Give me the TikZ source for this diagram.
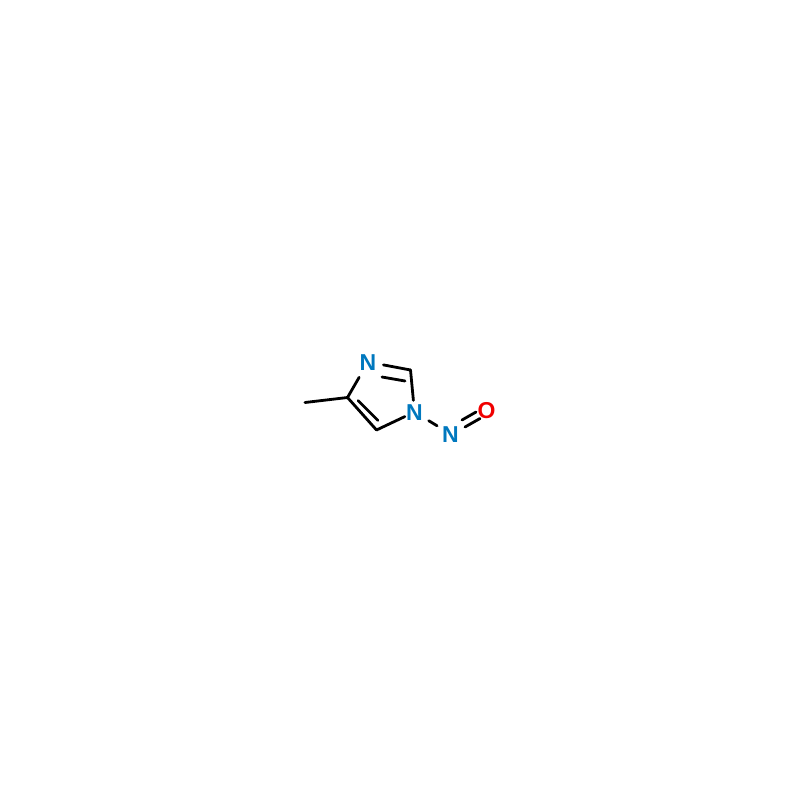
\documentclass[tikz,border=0pt]{standalone}
\usepackage{fontspec}
\setmainfont{Liberation Sans}
\definecolor{nblue}{RGB}{0,120,190}
\definecolor{ored}{RGB}{240,0,0}
\begin{document}
\begin{tikzpicture}[x=1pt,y=-1pt,
  atom/.style={circle,inner sep=0pt,text height=16pt,text depth=0pt,font=\fontsize{23}{24}\selectfont\bfseries},
  bond/.style={line width=2.8pt,line cap=round}]
\useasboundingbox (0,0) rectangle (800,800);
\node[atom,text=nblue] (N3) at (368,362) {N};
\node[atom,text=nblue] (N1) at (414.5,412) {N};
\node[atom,text=nblue] (Nn) at (450.5,434) {N};
\node[atom,text=ored] (O) at (486.5,410) {O};
\coordinate (Me) at (305,402.5);
\coordinate (C4) at (347.5,397.5);
\coordinate (C2) at (410.5,370);
\coordinate (C5) at (376.5,430);
\coordinate (d1a) at (382,377);
\coordinate (d1b) at (405,381);
\coordinate (d2a) at (358,400.5);
\coordinate (d2b) at (378,420.5);
\coordinate (d3a) at (462,420);
\coordinate (d3b) at (476,412);
\coordinate (d4a) at (465,427);
\coordinate (d4b) at (480,418.5);
\draw[bond] (Me) -- (C4);
\draw[bond,shorten >=6pt] (C4) -- (N3);
\draw[bond,shorten <=4pt] (N3) -- (C2);
\draw[bond,shorten >=0pt] (C2) -- (N1);
\draw[bond,shorten <=-1pt] (N1) -- (C5);
\draw[bond] (C5) -- (C4);
\draw[bond,shorten <=5pt,shorten >=4pt] (N1) -- (Nn);
\draw[bond] (d1a) -- (d1b);
\draw[bond] (d2a) -- (d2b);
\draw[bond] (d3a) -- (d3b);
\draw[bond] (d4a) -- (d4b);
\end{tikzpicture}
\end{document}
